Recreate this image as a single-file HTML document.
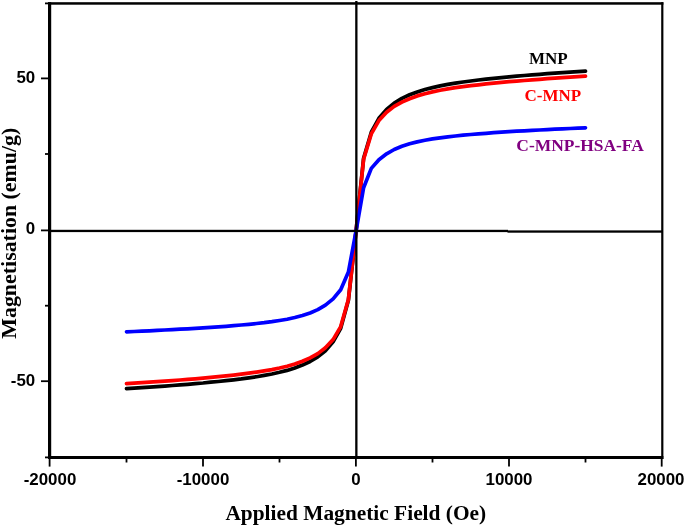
<!DOCTYPE html>
<html><head><meta charset="utf-8">
<style>
html,body{margin:0;padding:0;background:#fff;}
body{width:685px;height:526px;overflow:hidden;}
svg{display:block;will-change:transform;}
.tk{font-family:"Liberation Sans",sans-serif;font-weight:bold;font-size:16.9px;fill:#000;}
.ttl{font-family:"Liberation Serif",serif;font-weight:bold;font-size:21.6px;fill:#000;}
.lg{font-family:"Liberation Serif",serif;font-weight:bold;font-size:17px;}
</style></head>
<body>
<svg width="685" height="526" viewBox="0 0 685 526">
<rect width="685" height="526" fill="#fff"/>
<!-- frame -->
<rect x="48" y="2.2" width="615.4" height="2.5" fill="#000"/>
<rect x="48" y="456" width="615.4" height="3" fill="#000"/>
<rect x="48" y="2.2" width="3.2" height="456.8" fill="#000"/>
<rect x="661.2" y="2.2" width="2.2" height="456.8" fill="#000"/>
<!-- y ticks -->
<g stroke="#000" stroke-width="1.8">
<line x1="41" y1="78.4" x2="49" y2="78.4"/>
<line x1="41" y1="230.4" x2="49" y2="230.4"/>
<line x1="41" y1="381.2" x2="49" y2="381.2"/>
<line x1="45" y1="154" x2="49" y2="154"/>
<line x1="45" y1="305.7" x2="49" y2="305.7"/>
<line x1="45" y1="3.4" x2="49" y2="3.4"/>
<line x1="45" y1="457.4" x2="49" y2="457.4"/>
</g>
<!-- x ticks -->
<g stroke="#000" stroke-width="1.8">
<line x1="49.6" y1="458" x2="49.6" y2="466.6"/>
<line x1="203" y1="458" x2="203" y2="466.6"/>
<line x1="355.9" y1="458" x2="355.9" y2="466.6"/>
<line x1="509" y1="458" x2="509" y2="466.6"/>
<line x1="661.7" y1="458" x2="661.7" y2="466.6"/>
<line x1="126.5" y1="458" x2="126.5" y2="462.5"/>
<line x1="279.5" y1="458" x2="279.5" y2="462.5"/>
<line x1="432.5" y1="458" x2="432.5" y2="462.5"/>
<line x1="585.5" y1="458" x2="585.5" y2="462.5"/>
</g>
<!-- curves -->
<g transform="translate(0,0.4)" fill="none" stroke-width="3.7" stroke-linejoin="round" stroke-linecap="round">
<polyline stroke="#000" points="126.5,388.3 134.2,387.8 141.8,387.3 149.5,386.8 157.1,386.2 164.8,385.7 172.4,385.1 180.1,384.5 187.7,383.9 195.3,383.2 203.0,382.6 210.7,381.8 218.3,381.1 226.0,380.3 233.6,379.4 241.2,378.5 248.9,377.4 256.6,376.3 264.2,375.0 271.9,373.6 279.5,371.9 287.1,370.0 294.8,367.6 302.4,364.7 310.1,361.1 317.8,356.5 325.4,350.3 333.1,341.5 340.7,327.9 348.4,299.9 356.0,231.2 363.6,157.9 371.3,131.8 378.9,117.9 386.6,109.0 394.2,102.7 401.9,98.0 409.6,94.4 417.2,91.5 424.9,89.1 432.5,87.2 440.1,85.5 447.8,84.0 455.4,82.8 463.1,81.6 470.8,80.6 478.4,79.6 486.0,78.8 493.7,78.0 501.4,77.2 509.0,76.5 516.6,75.8 524.3,75.1 532.0,74.5 539.6,73.9 547.2,73.3 554.9,72.8 562.5,72.3 570.2,71.7 577.9,71.2 585.5,70.7"/>
<polyline stroke="#f00" points="126.5,383.3 134.2,382.8 141.8,382.3 149.5,381.8 157.1,381.3 164.8,380.7 172.4,380.2 180.1,379.6 187.7,379.0 195.3,378.4 203.0,377.7 210.7,377.0 218.3,376.3 226.0,375.5 233.6,374.7 241.2,373.8 248.9,372.8 256.6,371.7 264.2,370.5 271.9,369.2 279.5,367.6 287.1,365.8 294.8,363.6 302.4,360.9 310.1,357.5 317.8,353.2 325.4,347.4 333.1,339.2 340.7,326.2 348.4,299.0 356.0,231.2 363.6,158.8 371.3,133.5 378.9,120.2 386.6,111.9 394.2,106.0 401.9,101.7 409.6,98.3 417.2,95.5 424.9,93.3 432.5,91.5 440.1,89.9 447.8,88.5 455.4,87.3 463.1,86.3 470.8,85.3 478.4,84.4 486.0,83.5 493.7,82.8 501.4,82.0 509.0,81.3 516.6,80.7 524.3,80.1 532.0,79.5 539.6,78.9 547.2,78.3 554.9,77.8 562.5,77.3 570.2,76.7 577.9,76.2 585.5,75.8"/>
<polyline stroke="#00f" points="126.5,331.4 134.2,331.1 141.8,330.7 149.5,330.4 157.1,330.0 164.8,329.6 172.4,329.2 180.1,328.8 187.7,328.4 195.3,327.9 203.0,327.5 210.7,327.0 218.3,326.4 226.0,325.9 233.6,325.3 241.2,324.6 248.9,323.9 256.6,323.1 264.2,322.3 271.9,321.3 279.5,320.1 287.1,318.8 294.8,317.1 302.4,315.1 310.1,312.6 317.8,309.2 325.4,304.7 333.1,298.5 340.7,289.3 348.4,271.7 356.0,230.9 363.6,187.3 371.3,168.0 378.9,159.3 386.6,153.4 394.2,149.1 401.9,145.9 409.6,143.4 417.2,141.5 424.9,139.9 432.5,138.5 440.1,137.4 447.8,136.4 455.4,135.6 463.1,134.8 470.8,134.1 478.4,133.5 486.0,132.9 493.7,132.3 501.4,131.8 509.0,131.3 516.6,130.8 524.3,130.4 532.0,130.0 539.6,129.6 547.2,129.2 554.9,128.8 562.5,128.4 570.2,128.1 577.9,127.7 585.5,127.4"/>
</g>
<!-- zero lines -->
<rect x="355.2" y="1" width="2.3" height="456" fill="#000"/>
<rect x="50" y="229.8" width="458" height="2.3" fill="#000"/>
<rect x="507.5" y="230.4" width="154.5" height="2.3" fill="#000"/>
<!-- tick labels -->
<g class="tk">
<text x="35.2" y="82.6" text-anchor="end">50</text>
<text x="35.2" y="234" text-anchor="end">0</text>
<text x="35.2" y="385.6" text-anchor="end">-50</text>
<text x="50" y="485" text-anchor="middle">-20000</text>
<text x="203" y="485" text-anchor="middle">-10000</text>
<text x="356" y="485" text-anchor="middle">0</text>
<text x="509" y="485" text-anchor="middle">10000</text>
<text x="661" y="485" text-anchor="middle">20000</text>
</g>
<!-- axis titles -->
<text class="ttl" x="355.8" y="520.4" style="font-size:21.4px" text-anchor="middle">Applied Magnetic Field (Oe)</text>
<text class="ttl" style="font-size:21.9px" transform="translate(16.2,233.2) rotate(-90)" text-anchor="middle">Magnetisation (emu/g)</text>
<!-- legend -->
<text class="lg" x="529" y="63.5" fill="#000">MNP</text>
<text class="lg" x="524.5" y="100.6" fill="#f00">C-MNP</text>
<text class="lg" x="516.3" y="151.4" fill="#800080" style="font-size:17.45px">C-MNP-HSA-FA</text>
</svg>
</body></html>
